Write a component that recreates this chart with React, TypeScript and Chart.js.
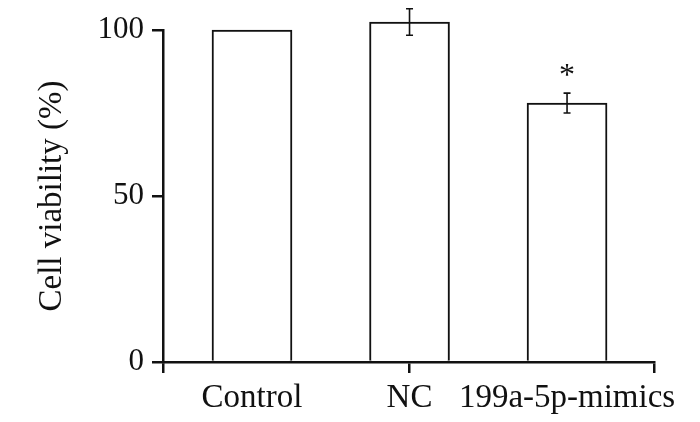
import { useEffect, useRef } from 'react';
import { Chart, registerables } from 'chart.js';

Chart.register(...registerables);

const categories = ['Control', 'NC', '199a-5p-mimics'];
const viability = [100, 102.4, 78];
const errors = [0, 4, 3];
const significance = ['', '', '*'];
const yTicks = [0, 50, 100];
const yTitle = 'Cell viability (%)';

const FONT = '"Liberation Serif", "Times New Roman", serif';

const errorPlugin = {
  id: 'errorBars',
  afterDatasetsDraw(chart: any) {
    const { ctx } = chart;
    const xs = chart.scales.x;
    const ys = chart.scales.y;
    ctx.save();
    ctx.strokeStyle = '#111';
    ctx.fillStyle = '#111';
    ctx.lineWidth = 1.6;
    viability.forEach((v, i) => {
      const e = errors[i];
      const px = xs.getPixelForValue(i);
      let top = ys.getPixelForValue(v);
      if (e > 0) {
        const t = ys.getPixelForValue(v + e);
        const b = ys.getPixelForValue(v - e);
        ctx.beginPath();
        ctx.moveTo(px, t);
        ctx.lineTo(px, b);
        ctx.moveTo(px - 3.5, t);
        ctx.lineTo(px + 3.5, t);
        ctx.moveTo(px - 3.5, b);
        ctx.lineTo(px + 3.5, b);
        ctx.stroke();
        top = t;
      }
      if (significance[i]) {
        ctx.font = `32px ${FONT}`;
        ctx.textAlign = 'center';
        ctx.textBaseline = 'alphabetic';
        ctx.fillText(significance[i], px, top - 8);
      }
    });
    ctx.restore();
  },
};

export default function App() {
  const ref = useRef<HTMLCanvasElement>(null);
  useEffect(() => {
    if (!ref.current) return;
    const xMin = -0.565;
    const xMax = 2.552;
    const chart = new Chart(ref.current, {
      type: 'bar',
      data: {
        datasets: [
          {
            data: viability.map((v, i) => ({ x: i, y: v })),
            backgroundColor: '#ffffff',
            borderColor: '#111',
            borderWidth: 2,
            barThickness: 80,
            borderSkipped: 'bottom',
            clip: false as any,
          },
        ],
      },
      options: {
        animation: false,
        responsive: true,
        maintainAspectRatio: false,
        layout: { padding: { top: 30, right: 46, bottom: 0, left: 0 } },
        plugins: { legend: { display: false }, tooltip: { enabled: false } },
        scales: {
          x: {
            type: 'linear',
            min: xMin,
            max: xMax,
            offset: false,
            afterFit: (s: any) => {
              s.height = 60;
            },
            afterBuildTicks: (s: any) => {
              s.ticks = [xMin, 0, 1, 2, xMax].map((v) => ({ value: v }));
            },
            grid: {
              offset: false,
              drawOnChartArea: false,
              tickLength: 11,
              lineWidth: 2.5,
              tickColor: (c: any) => {
                const v = c.tick ? c.tick.value : null;
                return v === 0 || v === 2 ? 'rgba(0,0,0,0)' : '#111';
              },
            },
            border: { display: true, color: '#111', width: 2.5 },
            ticks: {
              autoSkip: false,
              maxRotation: 0,
              padding: 6,
              color: '#111',
              font: { family: FONT, size: 33 },
              callback: (v: any) => {
                const idx = Number(v);
                return Number.isInteger(idx) && categories[idx] ? categories[idx] : '';
              },
            },
          },
          y: {
            min: 0,
            max: 100,
            afterFit: (s: any) => {
              s.width = 163;
            },
            afterBuildTicks: (s: any) => {
              s.ticks = yTicks.map((v) => ({ value: v }));
            },
            grid: {
              drawOnChartArea: false,
              tickLength: 11,
              lineWidth: 2.5,
              tickColor: '#111',
            },
            border: { display: true, color: '#111', width: 2.5 },
            ticks: {
              padding: 8,
              color: '#111',
              font: { family: FONT, size: 31 },
            },
            title: {
              display: true,
              text: yTitle,
              color: '#111',
              font: { family: FONT, size: 33 },
              padding: { top: 33, bottom: 0 },
            },
          },
        },
      },
      plugins: [errorPlugin],
    });
    return () => chart.destroy();
  }, []);
  return (
    <div style={{ position: 'absolute', left: 0, top: 0, width: 700, height: 422, background: '#fff' }}>
      <canvas ref={ref} />
    </div>
  );
}
